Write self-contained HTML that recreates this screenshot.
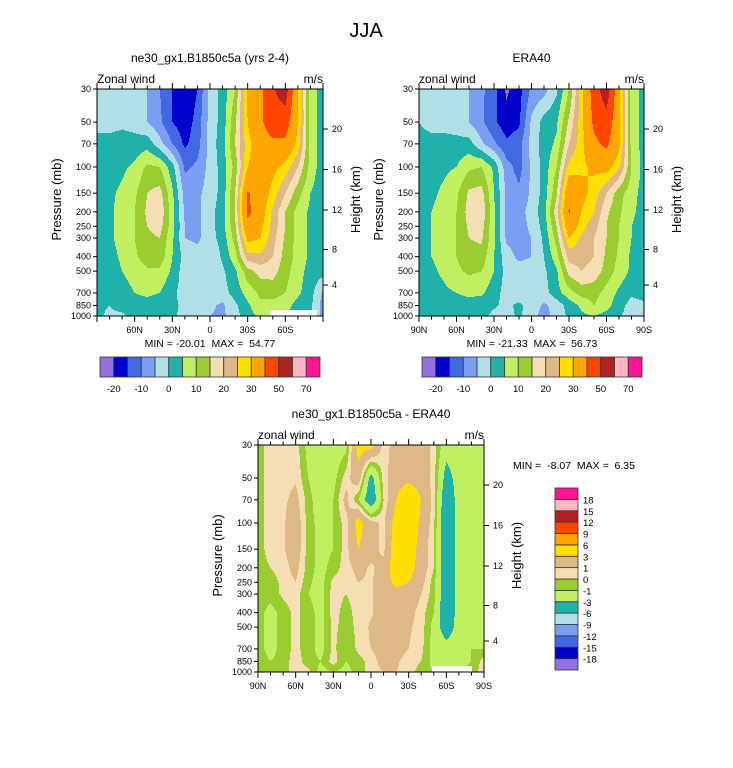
<!DOCTYPE html>
<html><head><meta charset="utf-8"><style>
html,body{margin:0;padding:0;background:#fff;}
svg{display:block;font-family:"Liberation Sans",Arial,sans-serif;}
</style></head><body>
<svg id="root" width="733" height="768" viewBox="0 0 733 768">
<text x="366" y="37" font-size="20" text-anchor="middle">JJA</text>
<g id="p1"></g>
<g id="p2"></g>
<g id="p3"></g>
</svg>
<script>
const lats = ["90N","80N","70N","60N","50N","40N","30N","20N","10N","0","10S","20S","30S","40S","50S","60S","70S","80S","90S"];
const pLevels = [30,50,70,100,150,200,250,300,400,500,700,850,1000];
const pTickLabels = ["30","50","70","100","150","200","250","300","400","500","700","850","1000"];
const hTickLabels = ["20","16","12","8","4"];
const hTickOffsets = [40,80.5,121,160.5,196];
const modelGrid = [
[-3,-3,-3,-3,-5,-10,-15,-20,-15,-3,2,10,32,38,49,55,30,7,3],
[-2,-2,-1,-2,-5,-9,-15,-18,-13,-3,2,14,30,38,46,45,30,8,2],
[2,2,2,2,3,-3,-10,-16,-12,-3,3,15,28,35,38,38,28,8,2],
[2,3,4,6,11,10,2,-11,-9,-3,2,12,30,33,32,28,20,8,2],
[2,4,6,9,15,17,6,-7,-6,-3,2,15,41,35,28,20,12,5,2],
[2,4,7,10,16,19,7,-6,-6,-2,3,15,42,34,24,15,8,4,2],
[2,4,7,10,15,17,7,-5,-6,-2,3,14,38,32,23,15,8,4,2],
[2,4,7,10,14,15,6,-5,-6,-2,2,12,32,30,22,14,8,4,2],
[1,3,6,9,13,13,5,-2,-3,-5,1,8,23,24,20,13,8,4,2],
[1,2,5,7,9,9,4,-3,-5,-3,-1,4,13,17,17,12,7,3,2],
[1,2,3,5,6,5,1,-2,-3,-3,-2,2,7,11,12,10,6,2,-6],
[1,0,2,3,3,2,1,-1,-2,-4,-6,-1,4,9,8,7,3,1,-7],
[1,-1,-1,2,2,1,0.5,-1,-3,-5,-6,-2,3,6,6,5,2,1,-7]];
const eraGrid = [
[-2,-3,-3,-4,-5,-9,-13,-21,-17,-9,-7,-1,10,28,45,56,32,8,3],
[0,-1,-2,-3,-5,-9,-14,-18,-16,-4,2,4,16,28,42,46,33,8,3],
[1,1,2,2,2,-4,-9,-14,-12,-3,2,6,20,28,38,42,32,8,3],
[2,3,4,5,9,10,4,-8,-12,-4,2,10,27,29,31,33,26,10,3],
[2,4,6,9,16,17,5,-6,-9,-4,2,14,37,32,28,20,12,7,3],
[3,5,7,10,17,19,6,-6,-7,-3,3,18,41,30,25,16,11,6,3],
[3,5,7,10,16,17,6,-6,-7,-4,2,15,36,27,22,15,10,5,3],
[3,5,7,10,15,16,6,-6,-7,-5,1,12,30,24,20,15,10,5,3],
[2,5,7,10,13,13,5,-3,-6,-5,0,8,22,22,20,14,9,4,3],
[2,4,6,9,11,10,5,-2,-3,-3,-1,4,17,20,18,13,8,4,5],
[2,3,4,5,6,6,2,-2,-3,-3,-2,3,8,12,12,8,4,1,2],
[2,2,3,3,3,2,0.5,-1,1,-2,-6,-3,2,6,10,7,2,-2,-1],
[1,1,2,2,2,1,-1,-2,1,-3,-7,-3,1,4,5,3,0.5,-2,-2]];
const diffGrid = [
[-0.5,0.5,0.5,0.5,-1.5,-2,-2,-1.5,4,4,0.5,1.5,2,2,0.5,-2,-1.5,-1.5,-1],
[-0.5,0.5,0.5,0.8,-1,-2,-1.5,0.5,2,-4,0.5,2,2.5,2,0.5,-4,-2,-1.5,-1],
[-0.5,0.5,0.7,1.5,-0.5,-2,-1,1.5,-1,-5,0,3,5,3,0.5,-5,-2,-1.5,-1],
[-0.5,0.5,0.8,2,-0.5,-1.5,-1,0.5,4,1.5,0.7,4,5,2.5,0.3,-5.5,-2,-1.5,-1],
[-0.5,0.5,0.8,2,-0.5,-1.5,-1,0.5,3,1.5,0.7,4.5,4.5,2,0,-5.5,-2,-1.5,-1],
[-0.5,0,0.5,1.5,-0.5,-1.5,-0.5,0.5,1.5,0.8,1.5,4.5,4,2,0,-5,-2,-1.5,-1],
[-0.5,-0.5,0.3,1,-0.8,-1.5,0.3,0.3,1,0.8,2,3.5,3,1.5,-0.5,-5,-2,-1.5,-1],
[-0.5,-0.5,0.2,0.5,-1,-1.5,0.5,0,0.5,0.8,2,2.5,2,1,-0.5,-5,-2,-1.5,-1],
[-0.5,-1.5,-0.5,0.3,-0.5,-1.5,0.5,-0.5,0.5,0.8,2,2,1.5,0.5,-1,-5,-2,-1.5,-1],
[-0.5,-1.5,-0.5,0.3,-0.5,-1.5,0.3,-0.5,0.3,1.2,2,1.5,1.2,0.5,-1.5,-4.5,-2,-1.5,-1],
[-0.5,-1.5,-0.5,0.3,-0.5,-1.5,0.3,-1,0.3,1,1.5,1.5,1,0.3,-1.5,-2,-1.5,-1,-1],
[-0.5,-1,-0.5,0.5,-0.5,-1,0.5,-1,-0.5,0.5,1.5,1.2,0.5,0,-1.5,-1.5,-1.5,-1,0.5],
[-0.5,-1,-0.5,0.5,0.3,-1.5,-1,-1.5,-0.5,0.5,1,1,0.5,-0.5,-1,-1,-1,-0.5,0.5]];
const windLevels = [-20,-15,-10,-5,0,5,10,15,20,25,30,40,50,60,70];
const diffLevels = [-18,-15,-12,-9,-6,-3,-1,0,1,3,6,9,12,15,18];
const palette = ["#9370DB","#0000CD","#4169E1","#7B9EF2","#B0E0E6","#20B2AA","#C0F062","#9ACD32","#F5DEB3","#DEB887","#FFDF00","#FFA500","#FF4500","#B22222","#FFB6C1","#FF1493"];
const xMajorLabels = ["90N","60N","30N","0","30S","60S","90S"];

const NS="http://www.w3.org/2000/svg";
function mk(parent,tag,attrs,txt){const e=document.createElementNS(NS,tag);for(const k in attrs)e.setAttribute(k,attrs[k]);if(txt!==undefined)e.textContent=txt;parent.appendChild(e);return e;}

function colorIndex(v,levels){let i=0;while(i<levels.length&&v>=levels[i])i++;return i;}

function lnScale(H){return H/Math.log(pLevels[pLevels.length-1]/pLevels[0]);}
function yOfP(p,T,H){return T+lnScale(H)*Math.log(p/pLevels[0]);}
function xOfLatIdx(i,L,W){return L+W*i/(lats.length-1);}

function sample(grid,fr,fc){
  const r0=Math.min(Math.floor(fr),grid.length-2),c0=Math.min(Math.floor(fc),grid[0].length-2);
  const a=fr-r0,b=fc-c0;
  return grid[r0][c0]*(1-a)*(1-b)+grid[r0][c0+1]*(1-a)*b+grid[r0+1][c0]*a*(1-b)+grid[r0+1][c0+1]*a*b;
}

function drawField(g,grid,levels,L,T,W,H){
  const lnP=pLevels.map(p=>Math.log(p));
  const k=lnScale(H);
  const fg=mk(g,"g",{});
  
  
  for(let py=0;py<H;py++){
    const lp=lnP[0]+(py+0.5)/k;
    let r=0;while(r<lnP.length-2&&lp>lnP[r+1])r++;
    const fr=r+Math.min(1,Math.max(0,(lp-lnP[r])/(lnP[r+1]-lnP[r])));
    let runStart=0,runCol=-1;
    for(let px=0;px<=W;px++){
      let ci=-1;
      if(px<W){const fc=(px+0.5)/W*(lats.length-1);ci=colorIndex(sample(grid,fr,fc),levels);}
      if(ci!==runCol){
        if(runCol>=0){
          const rc=mk(fg,"rect",{x:L+runStart,y:T+py,width:px-runStart+0.4,height:1.4,fill:palette[runCol]});
          
          
        }
        runStart=px;runCol=ci;
      }
    }
  }
}

function drawAxes(g,cfg){
  const {L,T,W,H}=cfg;
  const R=L+W,B=T+H;
  const ax=mk(g,"g",{stroke:"#000","stroke-width":1,fill:"none"});
  
  
  mk(ax,"rect",{x:L,y:T,width:W,height:H});
  for(let i=0;i<lats.length;i++){
    const x=xOfLatIdx(i,L,W),len=(i%3===0)?6:3.5;
    mk(ax,"line",{x1:x,y1:B,x2:x,y2:B+len});
    mk(ax,"line",{x1:x,y1:T,x2:x,y2:T-len});
  }
  pLevels.forEach((p,i)=>{const y=yOfP(p,T,H);mk(ax,"line",{x1:L,y1:y,x2:L-4,y2:y});
    const t=mk(g,"text",{x:L-6,y:y+3,"font-size":9,"text-anchor":"end"},pTickLabels[i]);
    
    
  });
  hTickOffsets.forEach((o,i)=>{const y=T+o;mk(ax,"line",{x1:R,y1:y,x2:R+5,y2:y});
    const t=mk(g,"text",{x:R+9,y:y+3,"font-size":9},hTickLabels[i]);
    
    
  });
  xMajorLabels.forEach((lab,j)=>{
    if(cfg.skipEnds&&(j===0||j===xMajorLabels.length-1))return;
    const x=xOfLatIdx(j*3,L,W);
    const t=mk(g,"text",{x:x,y:B+17,"font-size":9,"text-anchor":"middle"},lab);
    
    
  });
  const yt=mk(g,"text",{x:0,y:0,"font-size":13,"text-anchor":"middle",transform:`translate(${L-36},${T+H/2-3}) rotate(-90)`},"Pressure (mb)");
  
  
  const ht=mk(g,"text",{x:0,y:0,"font-size":13,"text-anchor":"middle",transform:`translate(${R+37},${T+H/2-3}) rotate(-90)`},"Height (km)");
  
  
  const zw=mk(g,"text",{x:L,y:T-6,"font-size":12},cfg.varName);
  
  
  const un=mk(g,"text",{x:R,y:T-6,"font-size":12,"text-anchor":"end"},"m/s");
  
  
  const ti=mk(g,"text",{x:L+W/2,y:T-27,"font-size":12,"text-anchor":"middle"},cfg.title);
  
  
}

function hColorbar(g,levels,x0,x1,y0,h){
  const n=palette.length,bw=(x1-x0)/n;
  const cb=mk(g,"g",{});
  
  
  for(let i=0;i<n;i++){const r=mk(cb,"rect",{x:x0+i*bw,y:y0,width:bw,height:h,fill:palette[i],stroke:"#333","stroke-width":0.8});
    
    }
  for(let i=0;i<levels.length;i+=2){const t=mk(cb,"text",{x:x0+(i+1)*bw,y:y0+h+15,"font-size":9.5,"text-anchor":"middle"},String(levels[i]));
    
    }
}
function vColorbar(g,levels,x0,w,y0,y1){
  const n=palette.length,bh=(y1-y0)/n;
  const cb=mk(g,"g",{});
  
  
  for(let i=0;i<n;i++){const r=mk(cb,"rect",{x:x0,y:y1-(i+1)*bh,width:w,height:bh,fill:palette[i],stroke:"#333","stroke-width":0.8});
    
    }
  for(let i=0;i<levels.length;i++){const t=mk(cb,"text",{x:x0+w+5,y:y1-(i+1)*bh+4,"font-size":9.5},String(levels[i]));
    
    }
}
function note(g,x,y,anchor,txt){const t=mk(g,"text",{x:x,y:y,"font-size":10.5,"text-anchor":anchor,style:"white-space:pre"},txt);
  
  }
function missing(g,x,y,w,h){const r=mk(g,"rect",{x:x,y:y,width:w,height:h,fill:"#fff"});
  
  }

// Panel 1
const g1=document.getElementById("p1");
drawField(g1,modelGrid,windLevels,97,89,226,227);
missing(g1,270,310,47,6);
drawAxes(g1,{L:97,T:89,W:226,H:227,skipEnds:true,varName:"Zonal wind",title:"ne30_gx1.B1850c5a (yrs 2-4)"});
note(g1,210,347,"middle","MIN = -20.01  MAX =  54.77");
hColorbar(g1,windLevels,100,320,357,20);
// Panel 2
const g2=document.getElementById("p2");
drawField(g2,eraGrid,windLevels,419,89,225,227);
drawAxes(g2,{L:419,T:89,W:225,H:227,skipEnds:false,varName:"zonal wind",title:"ERA40"});
note(g2,532,347,"middle","MIN = -21.33  MAX =  56.73");
hColorbar(g2,windLevels,422,642,357,20);
// Panel 3
const g3=document.getElementById("p3");
drawField(g3,diffGrid,diffLevels,258,445,226,227);
missing(g3,432,666,40,6);
drawAxes(g3,{L:258,T:445,W:226,H:227,skipEnds:false,varName:"zonal wind",title:"ne30_gx1.B1850c5a - ERA40"});
note(g3,513,469,"start","MIN =  -8.07  MAX =  6.35");
vColorbar(g3,diffLevels,555,23,488,670);
</script>
</body></html>
